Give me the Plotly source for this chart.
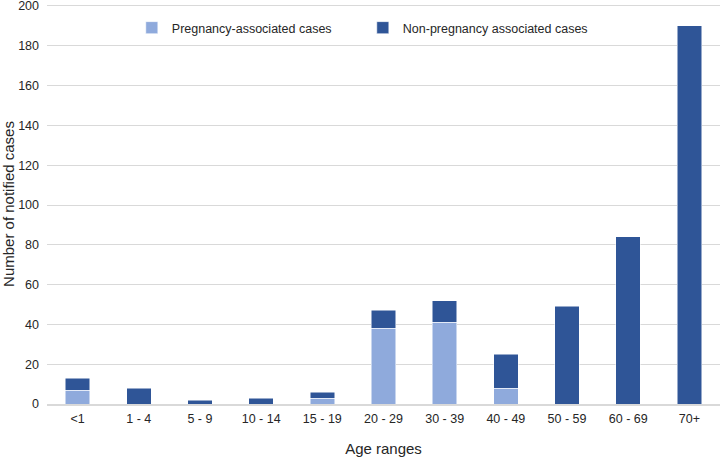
import plotly.graph_objects as go

age_ranges = ["<1", "1 - 4", "5 - 9", "10 - 14", "15 - 19", "20 - 29",
              "30 - 39", "40 - 49", "50 - 59", "60 - 69", "70+"]
pregnancy_cases = [7, 0, 0, 0, 3, 38, 41, 8, 0, 0, 0]
non_pregnancy_cases = [6, 8, 2, 3, 3, 9, 11, 17, 49, 84, 190]

fig = go.Figure()
fig.add_bar(x=age_ranges, y=pregnancy_cases, name="Pregnancy-associated cases",
            marker=dict(color="#8FAADC", line=dict(color="white", width=0.5)))
fig.add_bar(x=age_ranges, y=non_pregnancy_cases, name="Non-pregnancy associated cases",
            marker=dict(color="#2F5597", line=dict(color="white", width=0.5)))

fig.update_layout(
    barmode="stack",
    bargap=0.6,
    width=720,
    height=458,
    margin=dict(l=47, r=0, t=4, b=54, autoexpand=False),
    paper_bgcolor="white",
    plot_bgcolor="white",
    font=dict(family="Liberation Sans, Arial", size=12.5, color="#262626"),
    legend=dict(orientation="h", x=0.126, xanchor="left", y=0.94, yanchor="middle",
                font=dict(size=12.5), entrywidth=186, entrywidthmode="pixels",
                traceorder="normal", bgcolor="rgba(0,0,0,0)"),
    xaxis=dict(title=dict(text="Age ranges", standoff=19), showgrid=False,
               showline=True, linecolor="#D9D9D9", linewidth=1.5, ticks="",
               ticklabelstandoff=2, automargin=False),
    yaxis=dict(title=dict(text="Number of notified cases", standoff=2),
               range=[0, 201], tickvals=list(range(0, 201, 20)),
               gridcolor="#D9D9D9", gridwidth=1, ticklabelstandoff=7,
               ticklabeloverflow="allow",
               zeroline=False, ticks="", automargin=False),
)

fig.write_html("out.html", config={"displayModeBar": False},
               post_script="document.body.style.margin='0';")
